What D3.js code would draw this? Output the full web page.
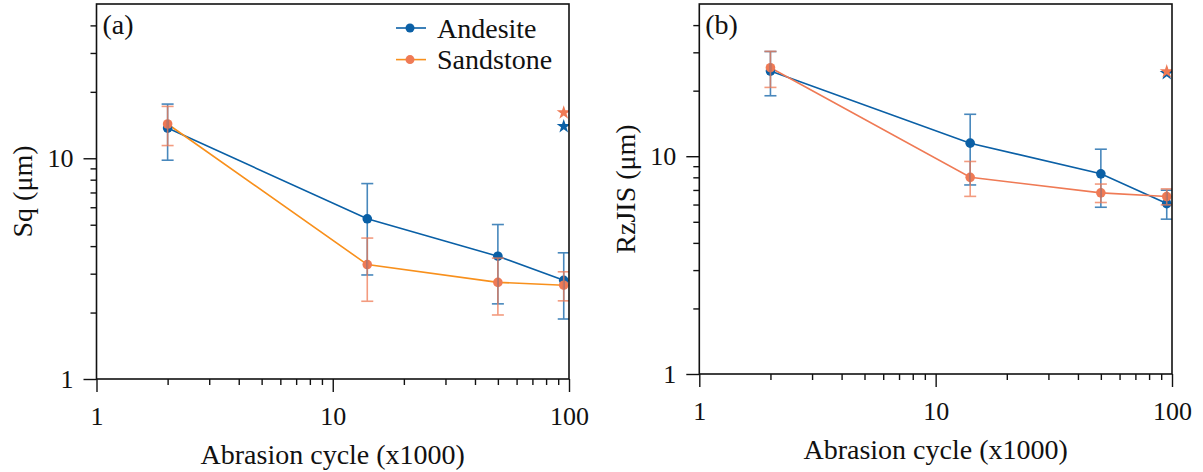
<!DOCTYPE html>
<html>
<head>
<meta charset="utf-8">
<script src="https://cdn.jsdelivr.net/npm/d3@7"></script>
<style>
  html, body { margin: 0; padding: 0; background: #fff; }
  svg { display: block; }
</style>
</head>
<body>
<svg id="chart" width="1203" height="472"></svg>
<script>
// Abrasion cycles (x1000)
const cycles = [2, 14, 50, 95];

// (a) Sq, mean and standard deviation
const sqAndesite    = [13.7, 5.32, 3.60, 2.80];
const sqAndesiteSd  = [3.9, 2.36, 1.41, 0.93];
const sqSandstone   = [14.3, 3.30, 2.74, 2.66];
const sqSandstoneSd = [2.88, 1.05, 0.79, 0.40];
const sqStar        = { andesite: 13.95, sandstone: 16.1 };

// (b) RzJIS, mean and standard deviation
const rzAndesite    = [24.6, 11.48, 8.30, 6.06];
const rzAndesiteSd  = [5.65, 4.10, 2.47, 0.92];
const rzSandstone   = [25.5, 8.00, 6.79, 6.53];
const rzSandstoneSd = [4.80, 1.46, 0.66, 0.55];
const rzStar        = { andesite: 24.0, sandstone: 24.5 };

const xMajor = [1, 10, 100];
const xMinor = [2, 3, 4, 5, 6, 7, 8, 9, 20, 30, 40, 50, 60, 70, 80, 90];
const yMajor = [1, 10];
const yMinor = [2, 3, 4, 5, 6, 7, 8, 9, 20, 30, 40];

const seriesNames = ["Andesite", "Sandstone"];

const BLUE = "#0b60a6";
const SALMON = "#ef7a55";
const ORANGE = "#f8901c";
const FONT = "'Liberation Serif', 'DejaVu Serif', 'Times New Roman', Times, serif";

const svg = d3.select("#chart");

const panels = [
  {
    id: "a", tag: "(a)", yTitle: "Sq (\u03bcm)",
    box: { left: 96.5, right: 569, top: 4, bottom: 379 },
    series: [
      { name: seriesNames[0], values: sqAndesite, sd: sqAndesiteSd, star: sqStar.andesite, color: BLUE, line: BLUE },
      { name: seriesNames[1], values: sqSandstone, sd: sqSandstoneSd, star: sqStar.sandstone, color: SALMON, line: ORANGE }
    ],
    legend: true
  },
  {
    id: "b", tag: "(b)", yTitle: "RzJIS (\u03bcm)",
    box: { left: 699.3, right: 1172, top: 4, bottom: 374 },
    series: [
      { name: seriesNames[0], values: rzAndesite, sd: rzAndesiteSd, star: rzStar.andesite, color: BLUE, line: BLUE },
      { name: seriesNames[1], values: rzSandstone, sd: rzSandstoneSd, star: rzStar.sandstone, color: SALMON, line: SALMON }
    ],
    legend: false
  }
];

panels.forEach(p => {
  const b = p.box;
  const x = d3.scaleLog().domain([1, 100]).range([b.left, b.right]);
  const y = d3.scaleLog().domain([1, 50]).range([b.bottom, b.top]);
  const g = svg.append("g");

  g.append("clipPath").attr("id", "clip-" + p.id)
    .append("rect")
    .attr("x", b.left).attr("y", b.top)
    .attr("width", b.right - b.left).attr("height", b.bottom - b.top);

  // axes: minor and major ticks pointing outward
  const styleAxis = sel => {
    sel.attr("font-family", null).attr("font-size", null);
    sel.select(".domain").remove();
    sel.selectAll("line").attr("stroke", "#111").attr("stroke-width", 1.4);
    sel.selectAll("text").style("font-family", FONT).style("font-size", "26px").attr("fill", "#111");
  };
  g.append("g").attr("transform", `translate(0,${b.bottom})`)
    .call(d3.axisBottom(x).tickValues(xMinor).tickSize(6).tickFormat(""))
    .call(styleAxis);
  g.append("g").attr("transform", `translate(0,${b.bottom})`)
    .call(d3.axisBottom(x).tickValues(xMajor).tickSize(13).tickPadding(15).tickFormat(d3.format("d")))
    .call(styleAxis)
    .selectAll("text").attr("dy", "0.71em");
  g.append("g").attr("transform", `translate(0,0)`).attr("transform", `translate(${b.left},0)`)
    .call(d3.axisLeft(y).tickValues(yMinor).tickSize(6).tickFormat(""))
    .call(styleAxis);
  g.append("g").attr("transform", `translate(${b.left},0)`)
    .call(d3.axisLeft(y).tickValues(yMajor).tickSize(13).tickPadding(10).tickFormat(d3.format("d")))
    .call(styleAxis);

  // data layer
  const plot = g.append("g").attr("clip-path", `url(#clip-${p.id})`);
  const line = d3.line().x((d, i) => x(cycles[i])).y(d => y(d));

  p.series.forEach(s => {
    plot.append("path").datum(s.values)
      .attr("d", line).attr("fill", "none")
      .attr("stroke", s.line).attr("stroke-width", 1.6);
  });
  p.series.forEach(s => {
    plot.selectAll(null).data(s.values).enter().append("circle")
      .attr("cx", (d, i) => x(cycles[i])).attr("cy", d => y(d))
      .attr("r", 4.8).attr("fill", s.color);
  });
  p.series.forEach(s => {
    const eb = plot.append("g").attr("stroke", s.color).attr("stroke-width", 1.6).attr("opacity", 0.75);
    s.values.forEach((v, i) => {
      const cx = x(cycles[i]);
      const y0 = y(v - s.sd[i]), y1 = y(v + s.sd[i]);
      eb.append("line").attr("x1", cx).attr("x2", cx).attr("y1", y0).attr("y2", y1);
      eb.append("line").attr("x1", cx - 6).attr("x2", cx + 6).attr("y1", y0).attr("y2", y0);
      eb.append("line").attr("x1", cx - 6).attr("x2", cx + 6).attr("y1", y1).attr("y2", y1);
    });
  });
  // reference values drawn as stars at the last cycle
  const star = d3.symbol().type(d3.symbolStar).size(62);
  p.series.forEach(s => {
    plot.append("path").attr("d", star)
      .attr("transform", `translate(${x(cycles[cycles.length - 1])},${y(s.star)})`)
      .attr("fill", s.color);
  });

  // frame
  g.append("rect")
    .attr("x", b.left).attr("y", b.top)
    .attr("width", b.right - b.left).attr("height", b.bottom - b.top)
    .attr("fill", "none").attr("stroke", "#111").attr("stroke-width", 1.6);

  const txt = sel => sel.style("font-family", FONT).style("font-size", "28px").attr("fill", "#111");

  // panel tag
  g.append("text").attr("x", b.left + 6).attr("y", b.top + 30)
    .call(txt).text(p.tag);

  // axis titles
  g.append("text")
    .attr("x", (b.left + b.right) / 2).attr("y", b.bottom + 85)
    .attr("text-anchor", "middle").call(txt)
    .text("Abrasion cycle (x1000)");
  g.append("text")
    .attr("transform", `translate(${b.left - 74},${(b.top + b.bottom) / 2}) rotate(-90)`)
    .attr("text-anchor", "middle").attr("dominant-baseline", "central")
    .call(txt)
    .text(p.yTitle);

  // legend
  if (p.legend) {
    const lg = g.append("g").attr("transform", "translate(396,28)");
    p.series.forEach((s, i) => {
      const row = lg.append("g").attr("transform", `translate(0,${i * 31.6})`);
      row.append("line").attr("x1", 0).attr("x2", 30).attr("y1", 0).attr("y2", 0)
        .attr("stroke", s.line).attr("stroke-width", 1.6);
      row.append("circle").attr("cx", 14).attr("cy", 0).attr("r", 4.5).attr("fill", s.color);
      row.append("text").attr("x", 41).attr("y", 0)
        .attr("dominant-baseline", "central").call(txt).text(s.name);
    });
  }
});
</script>
</body>
</html>
